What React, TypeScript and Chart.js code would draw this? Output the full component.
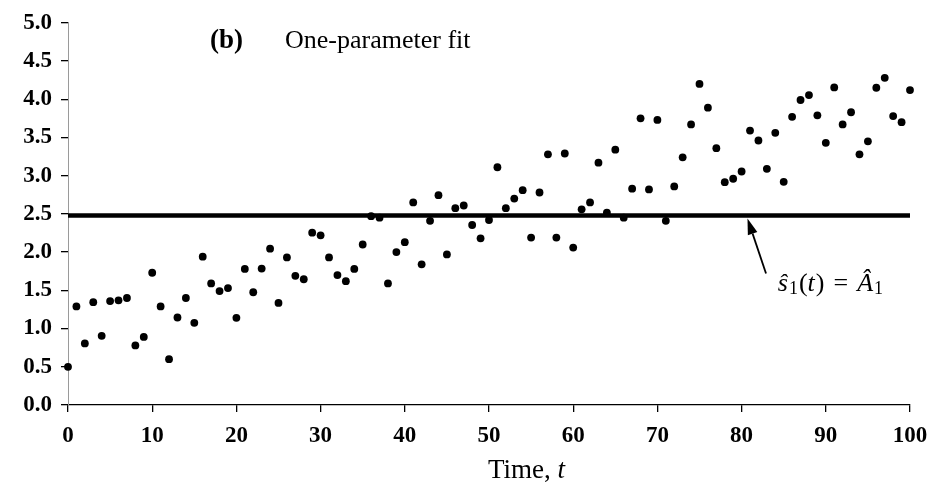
import React, { useEffect, useRef } from "react";
import { Chart, registerables } from "chart.js";

Chart.register(...registerables);

// Observed signal values at t = 0, 1, ..., 100
const SIGNAL: number[] = [
  0.5, 1.29, 0.805, 1.345, 0.905, 1.36, 1.37, 1.4, 0.78, 0.89,
  1.73, 1.29, 0.6, 1.145, 1.4, 1.075, 1.94, 1.59, 1.49, 1.53,
  1.14, 1.78, 1.475, 1.785, 2.045, 1.335, 1.93, 1.69, 1.645, 2.255,
  2.22, 1.93, 1.7, 1.62, 1.78, 2.1, 2.47, 2.45, 1.59, 2.0,
  2.13, 2.65, 1.84, 2.41, 2.745, 1.97, 2.575, 2.61, 2.355, 2.18,
  2.42, 3.11, 2.575, 2.7, 2.81, 2.19, 2.78, 3.28, 2.19, 3.29,
  2.06, 2.56, 2.65, 3.17, 2.515, 3.34, 2.45, 2.83, 3.75, 2.82,
  3.73, 2.41, 2.86, 3.24, 3.67, 4.2, 3.89, 3.36, 2.915, 2.96,
  3.055, 3.59, 3.46, 3.09, 3.56, 2.92, 3.77, 3.99, 4.055, 3.79,
  3.43, 4.155, 3.67, 3.83, 3.28, 3.45, 4.15, 4.28, 3.78, 3.7,
  4.12,
];

// One-parameter fit: constant level A1
const FIT_T: number[] = [0, 100];
const FIT_LEVEL = 2.48;

const X_MIN = 0;
const X_MAX = 100;
const X_STEP = 10;
const Y_MIN = 0;
const Y_MAX = 5;
const Y_STEP = 0.5;

const TITLE_TAG = "(b)";
const TITLE_TEXT = "One-parameter fit";
const X_TITLE = "Time, ";
const X_TITLE_VAR = "t";

const FONT = '"Liberation Serif", "DejaVu Serif", serif';

const annotationPlugin = {
  id: "annots",
  afterDraw(chart: any) {
    const { ctx, scales } = chart;
    const xs = scales.x;
    const ys = scales.y;
    ctx.save();
    ctx.fillStyle = "#000";
    ctx.strokeStyle = "#000";

    // Panel title
    ctx.textBaseline = "middle";
    ctx.textAlign = "left";
    ctx.font = `bold 27px ${FONT}`;
    ctx.fillText(TITLE_TAG, 210, 41);
    ctx.font = `26px ${FONT}`;
    ctx.fillText(TITLE_TEXT, 285, 41);

    // X axis title with italic variable
    const ty = 471;
    const startX = 488;
    ctx.font = `27px ${FONT}`;
    const w1 = ctx.measureText(X_TITLE).width;
    ctx.fillText(X_TITLE, startX, ty);
    ctx.font = `italic 27px ${FONT}`;
    ctx.fillText(X_TITLE_VAR, startX + w1, ty);

    // Arrow annotation pointing at the fit line
    const tipX = xs.getPixelForValue(80.7);
    const tipY = ys.getPixelForValue(FIT_LEVEL) + 3;
    const tailX = xs.getPixelForValue(82.9);
    const tailY = ys.getPixelForValue(1.72);
    const ang = Math.atan2(tipY - tailY, tipX - tailX);
    const headLen = 16;
    const headW = 5;
    const baseX = tipX - headLen * Math.cos(ang);
    const baseY = tipY - headLen * Math.sin(ang);
    ctx.lineWidth = 1.8;
    ctx.beginPath();
    ctx.moveTo(tailX, tailY);
    ctx.lineTo(baseX, baseY);
    ctx.stroke();
    ctx.beginPath();
    ctx.moveTo(tipX, tipY);
    ctx.lineTo(baseX + headW * Math.sin(ang), baseY - headW * Math.cos(ang));
    ctx.lineTo(baseX - headW * Math.sin(ang), baseY + headW * Math.cos(ang));
    ctx.closePath();
    ctx.fill();

    // Label  ŝ1(t) = Â1
    const lx = xs.getPixelForValue(84.3);
    const ly = ys.getPixelForValue(1.58);
    let x = lx;
    const put = (s: string, font: string, dy = 0, gapAfter = 0) => {
      ctx.font = font;
      ctx.fillText(s, x, ly + dy);
      x += ctx.measureText(s).width + gapAfter;
    };
    put("\u015D", `italic 26px ${FONT}`, 0, 1);
    put("1", `18px ${FONT}`, 5, 1);
    put("(", `26px ${FONT}`);
    put("t", `italic 26px ${FONT}`, 0, 1);
    put(")", `26px ${FONT}`, 0, 9);
    put("=", `26px ${FONT}`, 0, 9);
    put("\u00C2", `italic 26px ${FONT}`, 0, 1);
    put("1", `18px ${FONT}`, 5);
    ctx.restore();
  },
};

export default function App() {
  const ref = useRef<HTMLCanvasElement | null>(null);

  useEffect(() => {
    if (!ref.current) return;
    const chart = new Chart(ref.current, {
      type: "scatter",
      data: {
        datasets: [
          {
            type: "line",
            label: "fit",
            data: FIT_T.map((t) => ({ x: t, y: FIT_LEVEL })),
            borderColor: "#000",
            borderWidth: 4.5,
            pointRadius: 0,
            fill: false,
            clip: false,
            order: 2,
          } as any,
          {
            type: "scatter",
            label: "data",
            data: SIGNAL.map((v, i) => ({ x: i, y: v })),
            backgroundColor: "#000",
            borderColor: "#000",
            borderWidth: 0,
            pointRadius: 3.9,
            clip: false,
            order: 1,
          } as any,
        ],
      },
      options: {
        animation: false,
        responsive: true,
        maintainAspectRatio: false,
        layout: { padding: { left: 0, right: 30, top: 21, bottom: 0 } },
        plugins: {
          legend: { display: false },
          tooltip: { enabled: false },
          title: { display: false },
        },
        scales: {
          x: {
            type: "linear",
            min: X_MIN,
            max: X_MAX,
            afterFit: (s: any) => {
              s.height = 81;
            },
            ticks: {
              stepSize: X_STEP,
              color: "#000",
              font: { family: FONT, size: 23, weight: "bold" },
              padding: 10,
              maxRotation: 0,
            },
            grid: {
              drawOnChartArea: false,
              drawTicks: true,
              tickLength: 7,
              color: "#000",
              lineWidth: 1.3,
            },
            border: { display: true, color: "#000", width: 1.3 },
          },
          y: {
            type: "linear",
            min: Y_MIN,
            max: Y_MAX,
            afterFit: (s: any) => {
              s.width = 68;
            },
            ticks: {
              stepSize: Y_STEP,
              color: "#000",
              font: { family: FONT, size: 23, weight: "bold" },
              padding: 9,
              callback: (v: any) => Number(v).toFixed(1),
            },
            grid: {
              drawOnChartArea: false,
              drawTicks: true,
              tickLength: 7,
              color: "#000",
              lineWidth: 1.3,
            },
            border: { display: true, color: "#9a9a9a", width: 1, dash: [1, 4] },
          },
        },
      },
      plugins: [annotationPlugin],
    });
    return () => chart.destroy();
  }, []);

  return (
    <div style={{ position: "absolute", left: 0, top: 0, width: 940, height: 486, background: "#fff" }}>
      <canvas ref={ref} />
    </div>
  );
}
